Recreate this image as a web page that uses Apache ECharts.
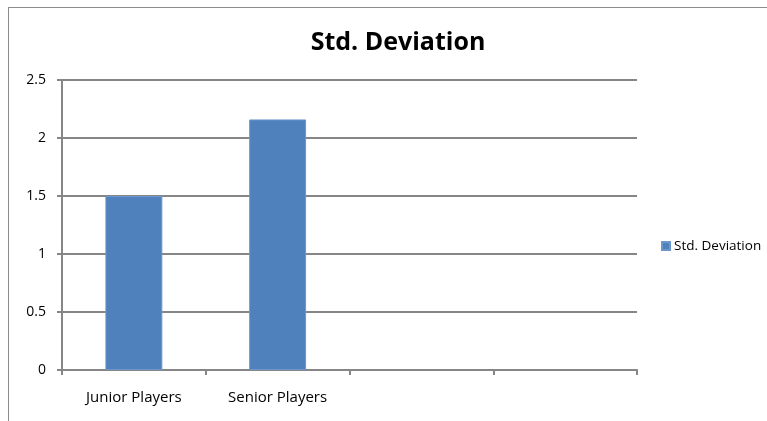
<!DOCTYPE html>
<html>
<head>
<meta charset="utf-8">
<script src="https://cdn.jsdelivr.net/npm/echarts@6/dist/echarts.min.js"></script>
<style>
  html, body { margin: 0; padding: 0; background: #fff; }
  #frame { position: absolute; left: 8px; top: 7px; width: 800px; height: 450px; border: 1px solid #8c8c8c; }
  #chart { position: absolute; left: 0; top: 0; width: 767px; height: 421px; }
</style>
</head>
<body>
<div id="frame"></div>
<div id="chart"></div>
<script>
// categories and values
var categories = ['Junior Players', 'Senior Players', '', ''];
var stdDev = [1.5, 2.16, null, null];
var seriesName = 'Std. Deviation';

var myChart = echarts.init(document.getElementById('chart'));

var option = {
  title: {
    text: 'Std. Deviation',
    left: 393,
    top: 25,
    textAlign: 'center',
    textStyle: { fontFamily: 'Open Sans', fontWeight: 'bold', fontSize: 25, color: '#000' }
  },
  legend: {
    data: [seriesName],
    left: 656,
    top: 234,
    icon: 'rect',
    itemWidth: 8,
    itemHeight: 8,
    itemGap: 4,
    textStyle: { fontFamily: 'Open Sans', fontSize: 13.5, color: '#000', padding: [0, 0, 0, -1] }
  },
  grid: { left: 62, top: 80, right: 130, bottom: 51 },
  xAxis: {
    type: 'category',
    data: categories,
    axisLine: { lineStyle: { color: '#868686', width: 2 } },
    axisTick: { show: true, length: 5, lineStyle: { color: '#868686', width: 2 } },
    axisLabel: { margin: 20, fontFamily: 'Open Sans', fontSize: 15, color: '#000' }
  },
  yAxis: {
    type: 'value',
    min: 0,
    max: 2.5,
    interval: 0.5,
    axisLine: { show: true, lineStyle: { color: '#868686', width: 2 } },
    axisTick: { show: true, length: 5, lineStyle: { color: '#868686', width: 2 } },
    splitLine: { lineStyle: { color: '#868686', width: 2 } },
    axisLabel: { margin: 16, fontFamily: 'Open Sans', fontSize: 14, color: '#000' }
  },
  series: [{
    name: seriesName,
    type: 'bar',
    data: stdDev,
    barWidth: '39.6%',
    itemStyle: { color: '#4f81bd', borderColor: '#6b97cc', borderWidth: 1 }
  }]
};

myChart.setOption(option);
</script>
</body>
</html>
